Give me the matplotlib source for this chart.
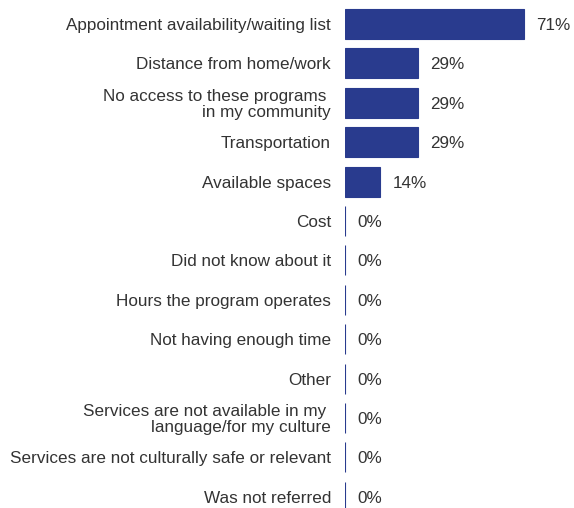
import matplotlib
matplotlib.use("Agg")
import matplotlib.pyplot as plt

# barriers to access, percent of respondents
labels = [
    "Appointment availability/waiting list",
    "Distance from home/work",
    "No access to these programs \nin my community",
    "Transportation",
    "Available spaces",
    "Cost",
    "Did not know about it",
    "Hours the program operates",
    "Not having enough time",
    "Other",
    "Services are not available in my \nlanguage/for my culture",
    "Services are not culturally safe or relevant",
    "Was not referred",
]
values = [71, 29, 29, 29, 14, 0, 0, 0, 0, 0, 0, 0, 0]

bar_color = "#293b8e"
text_color = "#333333"

plt.rcParams["font.family"] = ["Liberation Sans", "DejaVu Sans"]

W, H = 574, 508
fig = plt.figure(figsize=(W / 100, H / 100), dpi=100)

# axes placed in pixels: bars start at x=345, 2.52 px per percent
x0 = 345
px_per = 2.52
xmax = 80
top = 4.3
ax = fig.add_axes([x0 / W, 0, xmax * px_per / W, (H - top) / H])

y = list(range(len(labels)))
ax.barh(y, values, height=0.76, color=bar_color, edgecolor=bar_color, linewidth=0.8)

for yi, v in zip(y, values):
    ax.text(v + 12 / px_per, yi, f"{v}%", va="center_baseline", ha="left",
            fontsize=12.3, color=text_color, clip_on=False)

ax.set_xlim(0, xmax)
ax.set_ylim((H - 24) / 39.4, -0.5)
ax.set_yticks(y)
ax.set_yticklabels(labels, fontsize=12.3, color=text_color, linespacing=1.08)
ax.tick_params(axis="y", length=0, pad=10)
ax.set_xticks([])
for s in ax.spines.values():
    s.set_visible(False)
ax.patch.set_visible(False)

fig.savefig("out.png", dpi=100)
